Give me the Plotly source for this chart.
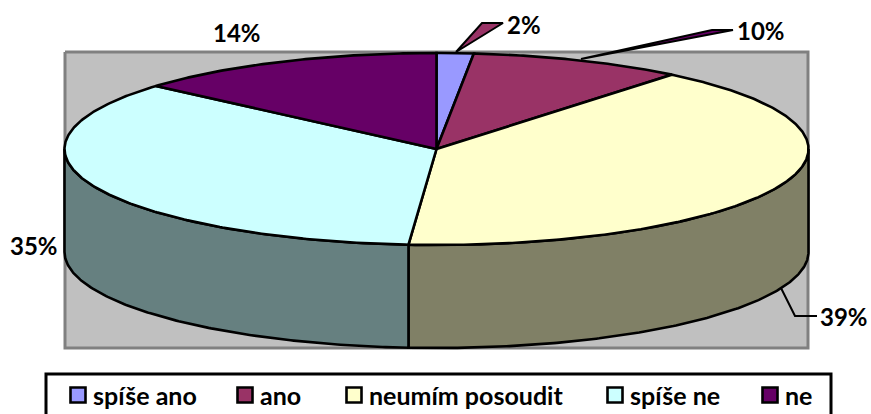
import numpy as np
import plotly.graph_objects as go

# slice order as in the chart, clockwise from 12 o'clock
categories = ["spíše ano", "ano", "neumím posoudit", "spíše ne", "ne"]
shares = [1.6, 9.3, 40.3, 35.2, 13.6]
pct_labels = ["2%", "10%", "39%", "35%", "14%"]

top_colors = ["#9999FF", "#993366", "#FFFFCC", "#CCFFFF", "#660066"]
side_colors = ["#4D4D80", "#4D1A33", "#808066", "#668080", "#330033"]

# pie geometry in page pixels
CX, CY, RX, RY, DEPTH = 436.5, 149, 372, 96, 103
FONT = "Lato"
LINE = dict(color="#000000", width=2.6)


def ellipse(start, end, drop=0):
    """ Points on the pie rim between two angles (degrees clockwise from the top) """
    steps = max(int(abs(end - start)) * 2, 2)
    theta = np.radians(np.linspace(start, end, steps))
    return CX + RX * np.sin(theta), CY - RY * np.cos(theta) + drop


def add_poly(fig, x, y, fill, line=LINE):
    fig.add_trace(go.Scatter(x=list(x), y=list(y), mode="lines", fill="toself", fillcolor=fill,
                             line=line, hoverinfo="skip", showlegend=False))


fig = go.Figure()

# grey back wall
add_poly(fig, [65, 808, 808, 65, 65], [52, 52, 348, 348, 52], "#C0C0C0", dict(color="#808080", width=3))

edges = 3.6 * np.cumsum([0] + shares)

# rim of the pie, only the part facing the viewer
for i in range(len(categories)):
    start, end = max(edges[i], 90), min(edges[i + 1], 270)
    if start < end:
        tx, ty = ellipse(start, end)
        bx, by = ellipse(end, start, DEPTH)
        add_poly(fig, np.r_[tx, bx, tx[0]], np.r_[ty, by, ty[0]], side_colors[i])

# top face
for i in range(len(categories)):
    ax, ay = ellipse(edges[i], edges[i + 1])
    add_poly(fig, np.r_[CX, ax, CX], np.r_[CY, ay, CY], top_colors[i])

# leader lines of the labels, Excel fills them with the next slice colour
add_poly(fig, [456, 482, 503, 456], [52, 23, 23, 52], "#993366", dict(color="#000000", width=2))
add_poly(fig, [581, 712, 733, 581], [59, 30, 30, 59], "#660066", dict(color="#000000", width=2))
fig.add_trace(go.Scatter(x=[781, 795, 817], y=[288, 316, 316], mode="lines", line=dict(color="#000000", width=2),
                         hoverinfo="skip", showlegend=False))

# percentage labels
label_pos = [(524, 24), (761, 30), (844, 316), (34, 245), (237, 32)]
for text, (x, y) in zip(pct_labels, label_pos):
    fig.add_annotation(x=x, y=y, text=text, showarrow=False,
                       font=dict(family=FONT, size=24, color="#000000", weight="bold"))

# legend
fig.add_shape(type="rect", x0=46, y0=374, x1=831, y1=425, layer="below",
              line=dict(color="#000000", width=3), fillcolor="#FFFFFF")
legend_x = [78, 245, 354, 615, 770]
for i, name in enumerate(categories):
    fig.add_trace(go.Scatter(x=[legend_x[i]], y=[395], mode="markers", name=name,
                             marker=dict(symbol="square", size=15, color=top_colors[i], line=LINE),
                             hoverinfo="skip", showlegend=False))
    fig.add_annotation(x=legend_x[i] + 15, y=395, text=name, showarrow=False, xanchor="left", xshift=-2,
                       font=dict(family=FONT, size=25, color="#000000", weight="bold"))

fig.update_xaxes(range=[0, 871], visible=False, fixedrange=True)
fig.update_yaxes(range=[414, 0], visible=False, fixedrange=True)
fig.update_layout(width=871, height=414, margin=dict(l=0, r=0, t=0, b=0),
                  plot_bgcolor="#FFFFFF", paper_bgcolor="#FFFFFF", font_family=FONT)

fig.write_html("out.html", config={"displayModeBar": False}, post_script="document.body.style.margin = '0';")
